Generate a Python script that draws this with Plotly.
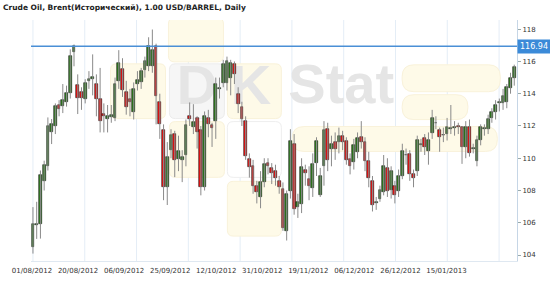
import plotly.graph_objects as go
import pandas as pd

# ---------------- data ----------------
_all = pd.bdate_range("2012-08-01", "2013-01-31")
_holidays = {"2012-12-25", "2013-01-01"}
dates = [d.strftime("%d/%m/%Y") for d in _all if d.strftime("%Y-%m-%d") not in _holidays]

open_ = [104.51, 105.88, 105.95, 108.62, 109.55, 111.60, 112.02, 113.29, 113.25, 113.50,
         114.03, 116.60, 114.53, 114.11, 113.70, 114.79, 114.90, 114.59, 113.66, 112.74,
         112.43, 112.53, 112.49, 114.79, 115.55, 114.11, 113.70, 112.88, 114.59, 114.70,
         115.50, 115.72, 115.72, 116.95, 113.46, 111.75, 108.20, 110.51, 111.50, 109.96,
         109.90, 110.20, 112.59, 111.91, 112.47, 111.77, 108.20, 112.49, 112.05, 112.30,
         114.32, 114.65, 114.69, 115.00, 115.82, 113.97, 113.15, 112.32, 109.96, 109.55,
         108.31, 107.60, 108.50, 109.71, 109.40, 109.18, 108.56, 108.10, 105.47, 107.94,
         110.90, 106.97, 107.18, 109.30, 108.70, 108.17, 109.70, 107.70, 109.55, 111.80,
         110.60, 111.00, 111.00, 111.40, 111.05, 109.96, 109.75, 110.37, 111.30, 111.00,
         109.85, 108.60, 107.25, 107.50, 107.90, 109.40, 108.04, 108.30, 108.00, 108.93,
         110.18, 110.27, 109.03, 109.20, 110.83, 111.25, 110.43, 111.54, 112.16, 111.75,
         111.42, 111.50, 111.81, 111.85, 111.98, 111.95, 110.68, 111.95, 110.58, 109.81,
         111.13, 111.81, 111.81, 112.49, 112.84, 113.45, 113.45, 113.50, 114.38, 114.96]
high = [106.97, 107.30, 109.24, 109.85, 112.53, 112.43, 113.40, 113.60, 114.60, 114.50,
        116.75, 117.05, 115.20, 114.40, 114.90, 115.40, 116.44, 115.20, 115.60, 113.40,
        113.30, 113.30, 115.00, 116.70, 116.20, 114.80, 114.30, 114.70, 115.40, 115.60,
        116.30, 117.50, 117.98, 117.10, 114.00, 112.10, 111.00, 111.80, 111.70, 111.40,
        110.50, 112.40, 113.46, 113.35, 112.60, 112.00, 112.90, 113.00, 112.20, 115.00,
        115.00, 116.10, 116.30, 116.10, 116.00, 114.40, 113.50, 112.60, 110.30, 109.90,
        108.60, 109.20, 110.00, 110.00, 109.70, 109.60, 108.90, 108.50, 108.00, 111.80,
        111.50, 107.80, 110.00, 109.60, 109.50, 110.30, 111.30, 109.40, 112.30, 112.20,
        111.40, 111.60, 111.90, 111.70, 111.30, 110.30, 111.20, 111.60, 112.30, 111.30,
        110.40, 108.90, 107.60, 108.30, 110.20, 110.00, 109.50, 108.60, 109.30, 110.90,
        110.60, 110.50, 109.30, 111.40, 111.20, 111.50, 111.60, 113.00, 112.60, 111.90,
        111.90, 112.50, 113.30, 112.30, 112.20, 112.00, 112.30, 112.40, 110.90, 111.40,
        112.10, 112.10, 112.70, 113.10, 113.60, 113.70, 114.30, 114.60, 115.30, 115.80]
low = [104.09, 105.00, 105.02, 108.00, 109.24, 110.88, 111.50, 112.60, 112.80, 113.20,
       113.70, 115.70, 112.74, 113.00, 113.40, 114.30, 113.90, 112.60, 111.60, 111.60,
       111.60, 112.20, 112.30, 114.30, 113.80, 112.70, 112.60, 112.40, 114.20, 114.30,
       115.00, 115.40, 115.30, 112.10, 111.20, 107.40, 107.10, 110.00, 108.83, 109.20,
       108.52, 109.50, 112.00, 111.50, 110.60, 107.70, 108.00, 111.30, 110.70, 111.20,
       113.70, 114.40, 114.20, 113.90, 114.60, 112.80, 112.00, 109.90, 108.80, 107.80,
       107.20, 106.90, 108.20, 109.00, 108.40, 108.30, 107.80, 105.50, 104.90, 107.50,
       106.50, 106.30, 106.60, 108.30, 107.40, 107.60, 108.90, 107.60, 108.30, 109.20,
       109.50, 109.90, 110.30, 110.50, 109.60, 109.00, 109.30, 110.00, 110.60, 109.20,
       108.20, 106.70, 106.80, 107.30, 107.70, 107.60, 107.50, 107.20, 107.60, 108.70,
       109.60, 108.60, 108.20, 108.90, 110.40, 110.20, 109.60, 111.20, 111.80, 110.40,
       111.00, 111.10, 111.50, 111.40, 111.50, 109.65, 110.00, 110.10, 110.30, 109.50,
       110.80, 111.40, 111.50, 112.20, 112.40, 112.90, 113.00, 113.10, 114.00, 114.50]
close = [105.95, 105.92, 108.97, 109.59, 112.02, 112.12, 113.21, 113.04, 113.60, 114.03,
         116.34, 116.95, 113.76, 113.76, 114.69, 114.94, 115.06, 113.66, 112.32, 112.63,
         112.59, 112.70, 114.59, 115.88, 114.24, 113.15, 113.50, 114.28, 114.84, 115.40,
         116.03, 116.95, 116.70, 113.87, 112.10, 108.20, 110.06, 111.44, 109.90, 110.47,
         110.10, 112.06, 112.43, 112.22, 111.60, 108.20, 112.63, 112.12, 111.85, 114.60,
         114.38, 115.82, 116.03, 115.92, 115.20, 113.35, 112.43, 110.16, 109.44, 108.31,
         107.90, 108.50, 109.65, 109.50, 109.10, 108.76, 108.20, 105.68, 107.76, 111.09,
         106.87, 107.28, 109.44, 109.10, 108.30, 109.65, 111.05, 108.93, 111.75, 109.90,
         110.90, 110.60, 111.40, 111.00, 109.90, 109.55, 110.80, 111.25, 111.00, 109.85,
         108.80, 107.08, 107.30, 108.04, 109.55, 107.96, 109.24, 107.70, 108.93, 110.43,
         110.22, 109.03, 108.80, 111.13, 110.87, 110.68, 111.13, 112.49, 112.20, 111.33,
         111.46, 111.95, 111.85, 111.95, 111.92, 110.68, 111.95, 110.30, 110.62, 111.13,
         111.91, 111.85, 112.45, 112.84, 113.31, 113.50, 113.87, 114.42, 114.96, 115.66]

current_price = 116.94
x_tick_labels = ["01/08/2012", "20/08/2012", "06/09/2012", "25/09/2012", "12/10/2012",
                 "31/10/2012", "19/11/2012", "06/12/2012", "26/12/2012", "15/01/2013"]
y_ticks = [104, 106, 108, 110, 112, 114, 116, 118]
title = "Crude Oil, Brent(Исторический), 1.00 USD/BARREL, Daily"
logo_words = ["D", "K", "Stat"]

# ---------------- figure ----------------
UP, DOWN = "#2c7a1c", "#ee1010"
bar_pos = list(range(len(dates)))          # one slot per trading day
PX_PER_BAR = 3.8
label_pos = [k * 46.9 / PX_PER_BAR - 0.25 for k in range(len(x_tick_labels))]
grid_pos = [k * 52.75 / PX_PER_BAR for k in range(len(x_tick_labels))]

fig = go.Figure()

# watermark text on the hidden pixel-space base axes (drawn under the candles)
fig.add_trace(go.Scatter(
    x=[191, 246, 338], y=[90, 90, 89], mode="text", text=logo_words,
    textfont=dict(family="Liberation Sans", size=56, color="#e5e5e5", weight="bold"),
    hoverinfo="skip", showlegend=False, xaxis="x", yaxis="y"))

# wicks
wx, wy = [], []
for p, lo, hi in zip(bar_pos, low, high):
    wx += [p, p, None]
    wy += [lo, hi, None]
fig.add_trace(go.Scatter(x=wx, y=wy, mode="lines", line=dict(color="#8a8a8a", width=1),
                         hoverinfo="skip", showlegend=False, xaxis="x2", yaxis="y2"))

# bodies
fig.add_trace(go.Bar(
    x=bar_pos, y=[c - o for o, c in zip(open_, close)], base=open_, width=0.74,
    customdata=dates,
    marker=dict(color=[UP if c >= o else DOWN for o, c in zip(open_, close)],
                line=dict(color="#1c1c1c", width=0.6)),
    showlegend=False, xaxis="x2", yaxis="y2"))


def rrect(x0, y0, x1, y1, r):
    return (f"M{x0+r},{y0} L{x1-r},{y0} Q{x1},{y0} {x1},{y0+r} L{x1},{y1-r} "
            f"Q{x1},{y1} {x1-r},{y1} L{x0+r},{y1} Q{x0},{y1} {x0},{y1-r} "
            f"L{x0},{y0+r} Q{x0},{y0} {x0+r},{y0} Z")


YEL = dict(fill="#fefae8", line="#f9f2da")
GRY = dict(fill="#f6f6f6", line="#ececec")
WHT = dict(fill="#ffffff", line="#eeeeee")
boxes = [
    (162, 18, 218, 62, 6, YEL), (103, 64, 159, 119, 6, YEL), (163, 64, 219, 119, 6, GRY),
    (222, 64, 277, 119, 6, YEL), (163, 122, 219, 178, 6, YEL), (222, 122, 277, 178, 6, WHT),
    (222, 182, 277, 237, 6, YEL), (400, 65, 500, 92, 12, YEL), (400, 95, 467, 120, 12, YEL),
    (288, 127, 497, 152, 12, YEL),
]
shapes = []
for x0, y0, x1, y1, r, st in boxes:
    shapes.append(dict(type="path", path=rrect(x0, y0, x1, y1, r), xref="x", yref="y",
                       fillcolor=st["fill"], line=dict(color=st["line"], width=1), layer="below"))
for g in grid_pos:
    shapes.append(dict(type="line", xref="x2", x0=g, x1=g, yref="paper", y0=0, y1=1,
                       line=dict(color="#e4edf6", width=1), layer="below"))
shapes.append(dict(type="line", xref="paper", x0=0, x1=1, yref="y2", y0=current_price,
                   y1=current_price, line=dict(color="#4a8fd6", width=1.5), layer="above"))

L, R, T, B = 22, 33, 20, 25
x_lo = -(24 - L) / PX_PER_BAR
x_hi = (550 - R - 24) / PX_PER_BAR

fig.update_layout(
    width=550, height=287, margin=dict(l=L, r=R, t=T, b=B),
    paper_bgcolor="white", plot_bgcolor="rgba(0,0,0,0)",
    bargap=0, shapes=shapes, showlegend=False,
    title=dict(text=f"<b>{title}</b>", x=3 / 550, xanchor="left", y=1 - 7.5 / 287,
               yanchor="middle", font=dict(family="DejaVu Sans", size=7.5, color="#222")),
    xaxis=dict(range=[L, 550 - R], visible=False, fixedrange=True),
    yaxis=dict(range=[287 - B, T], visible=False, fixedrange=True),
    xaxis2=dict(overlaying="x", range=[x_lo, x_hi],
                tickmode="array", tickvals=label_pos, ticktext=x_tick_labels,
                showgrid=False, showline=True, linecolor="#dfe8f1",
                ticks="outside", ticklen=3, tickcolor="rgba(0,0,0,0)",
                tickfont=dict(family="DejaVu Sans", size=7, color="#333"), zeroline=False),
    yaxis2=dict(overlaying="y", side="right", range=[103.63, 118.57], tickvals=y_ticks,
                showgrid=False, showline=True, linecolor="#c6d6e6", ticks="outside",
                ticklen=3, tickcolor="#9aa", zeroline=False,
                tickfont=dict(family="DejaVu Sans", size=7, color="#333")),
    annotations=[dict(xref="paper", x=1, xanchor="left", yref="y2", y=current_price,
                      text=f"{current_price:.2f}", showarrow=False, bgcolor="#3b8ad8",
                      borderpad=2, font=dict(family="DejaVu Sans", size=8, color="white"))],
)

fig.write_html("out.html")
